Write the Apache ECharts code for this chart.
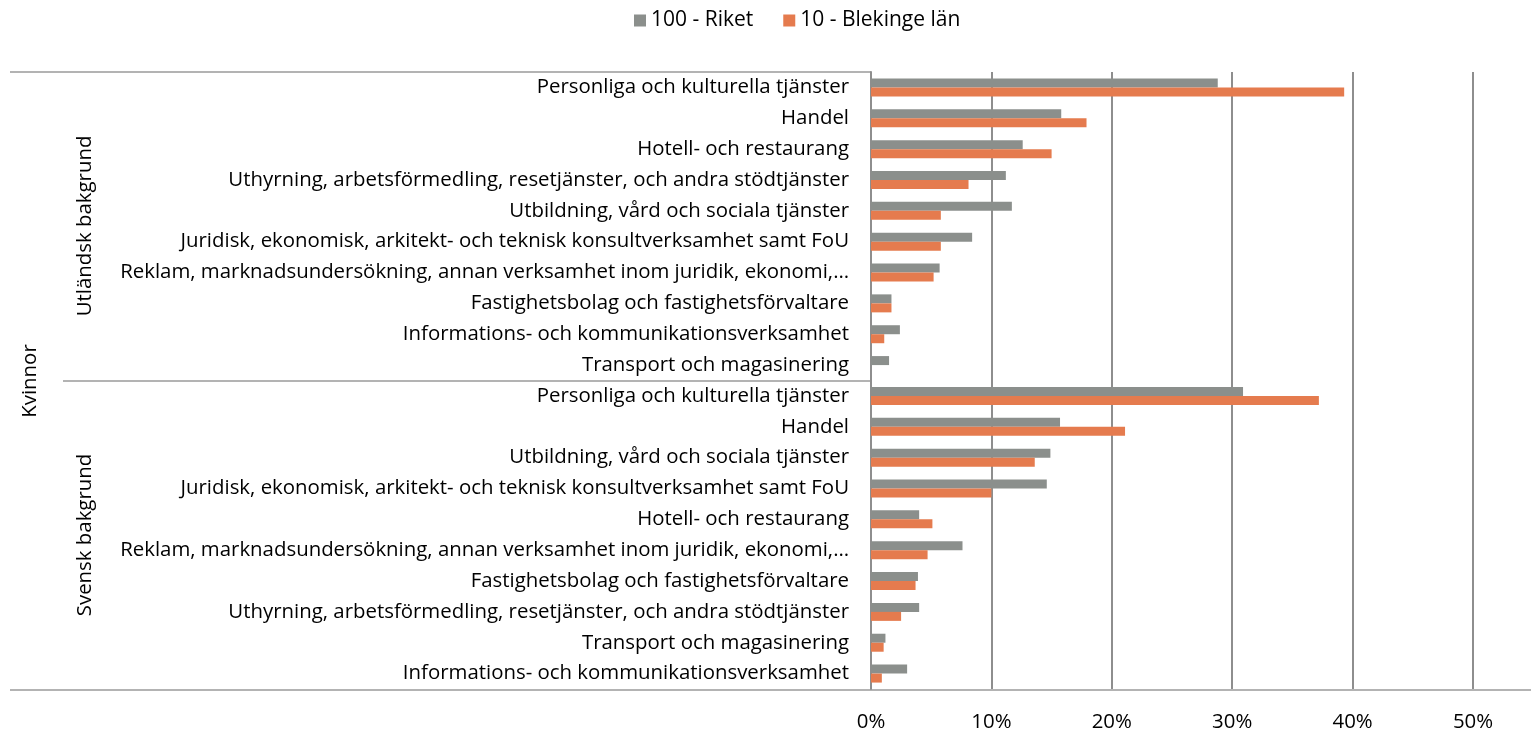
<!DOCTYPE html>
<html>
<head>
<meta charset="utf-8">
<script src="https://cdn.jsdelivr.net/npm/echarts@6/dist/echarts.min.js"></script>
<style>
    html, body { margin: 0; padding: 0; background: #fff; }
    #container { width: 1531px; height: 732px; }
</style>
</head>
<body>
<div id="container"></div>
<script type="text/javascript">
    // kategorier, uppifrån och ned
    var categories = [
        'Personliga och kulturella tjänster',
        'Handel',
        'Hotell- och restaurang',
        'Uthyrning, arbetsförmedling, resetjänster, och andra stödtjänster',
        'Utbildning, vård och sociala tjänster',
        'Juridisk, ekonomisk, arkitekt- och teknisk konsultverksamhet samt FoU',
        'Reklam, marknadsundersökning, annan verksamhet inom juridik, ekonomi,…',
        'Fastighetsbolag och fastighetsförvaltare',
        'Informations- och kommunikationsverksamhet',
        'Transport och magasinering',
        'Personliga och kulturella tjänster',
        'Handel',
        'Utbildning, vård och sociala tjänster',
        'Juridisk, ekonomisk, arkitekt- och teknisk konsultverksamhet samt FoU',
        'Hotell- och restaurang',
        'Reklam, marknadsundersökning, annan verksamhet inom juridik, ekonomi,…',
        'Fastighetsbolag och fastighetsförvaltare',
        'Uthyrning, arbetsförmedling, resetjänster, och andra stödtjänster',
        'Transport och magasinering',
        'Informations- och kommunikationsverksamhet'
    ];
    var groups = ['Utländsk bakgrund', 'Svensk bakgrund'];
    var topLabel = 'Kvinnor';
    var seriesNames = ['100 - Riket', '10 - Blekinge län'];

    // andel i procent
    var riket = [28.8, 15.8, 12.6, 11.2, 11.7, 8.4, 5.7, 1.7, 2.4, 1.5,
                 30.9, 15.7, 14.9, 14.6, 4.0, 7.6, 3.9, 4.0, 1.2, 3.0];
    var blekinge = [39.3, 17.9, 15.0, 8.1, 5.8, 5.8, 5.2, 1.7, 1.1, 0,
                    37.2, 21.1, 13.6, 10.0, 5.1, 4.7, 3.7, 2.5, 1.05, 0.9];
    var xTicks = [0, 10, 20, 30, 40, 50];

    var font = '"Open Sans"';
    var fs = 20.4;
    var lineColor = '#8e8e8e';

    // unika nycklar, samma namn förekommer i båda grupperna
    var catKeys = categories.map(function (c, i) { return i + '|' + c; });

    var myChart = echarts.init(document.getElementById('container'));

    function vText(label, x, y) {
        return {
            type: 'text', x: x, y: y, rotation: Math.PI / 2,
            style: {
                text: label, fill: '#000',
                fontSize: fs, fontFamily: font,
                align: 'center', verticalAlign: 'middle'
            }
        };
    }

    var option = {
        animation: false,
        color: ['#8b8f8c', '#e57b4e'],
        textStyle: { fontFamily: font },
        legend: {
            top: 5,
            left: 629,
            itemWidth: 12,
            itemHeight: 12,
            itemGap: 30,
            icon: 'rect',
            textStyle: { fontSize: 21, color: '#000', fontFamily: font },
            data: seriesNames
        },
        grid: {
            left: 871,
            right: 58,
            top: 72,
            bottom: 42
        },
        xAxis: {
            type: 'value',
            min: xTicks[0],
            max: xTicks[xTicks.length - 1],
            interval: 10,
            axisLine: { show: false },
            axisTick: { show: false },
            axisLabel: {
                margin: 23,
                fontSize: fs,
                color: '#000',
                fontFamily: font,
                formatter: '{value}%'
            },
            splitLine: { lineStyle: { color: lineColor, width: 2 } }
        },
        yAxis: {
            type: 'category',
            inverse: true,
            data: catKeys,
            axisLine: { show: true, lineStyle: { color: lineColor, width: 2 } },
            axisTick: { show: false },
            axisLabel: {
                margin: 22,
                fontSize: fs,
                color: '#000',
                fontFamily: font,
                interval: 0,
                formatter: function (v) { return v.split('|')[1]; }
            }
        },
        series: [
            {
                name: seriesNames[0],
                type: 'bar',
                barWidth: 9,
                barGap: '0%',
                data: riket
            },
            {
                name: seriesNames[1],
                type: 'bar',
                barWidth: 9,
                barGap: '0%',
                data: blekinge
            }
        ],
        graphic: [
            { type: 'line', shape: { x1: 10, y1: 72, x2: 871, y2: 72 }, style: { stroke: '#9a9a9a', lineWidth: 1.5 } },
            { type: 'line', shape: { x1: 63, y1: 381, x2: 871, y2: 381 }, style: { stroke: '#9a9a9a', lineWidth: 1.5 } },
            { type: 'line', shape: { x1: 10, y1: 690, x2: 1531, y2: 690 }, style: { stroke: '#9a9a9a', lineWidth: 1.5 } },
            vText(groups[0], 85, 226),
            vText(groups[1], 85, 535),
            vText(topLabel, 30, 381)
        ]
    };

    myChart.setOption(option);
</script>
</body>
</html>
